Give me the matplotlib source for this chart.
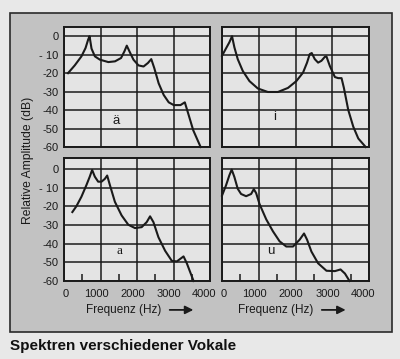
import matplotlib
matplotlib.use('Agg')
from matplotlib import pyplot as plt
from matplotlib.patches import Rectangle
from matplotlib.transforms import ScaledTranslation

plt.rcParams['font.family'] = ['Liberation Sans', 'DejaVu Sans']

# Daten (Frequenz in Hz, Amplitude in dB)
ae_x = [110, 294, 478, 590, 662, 700, 754, 846, 984, 1214, 1398, 1563, 1655, 1720, 1793,
        1903, 2041, 2179, 2299, 2391, 2474, 2593, 2731, 2869, 3007, 3191, 3310, 3402, 3540, 3743]
ae_y = [-20, -15.8, -10.9, -6.4, -1.8, 0, -6.7, -10.9, -12.7, -14, -13.6, -11.8, -8.2, -5.1, -8.2,
        -12.7, -15.8, -16.4, -14.5, -12.4, -17.3, -25.5, -31.8, -35.8, -37.3, -37.3, -35.8, -41.8,
        -50.9, -60]

i_x = [0, 109, 200, 273, 337, 428, 565, 747, 975, 1248, 1522, 1795, 2023, 2205, 2314,
       2387, 2442, 2524, 2615, 2706, 2797, 2843, 2934, 3071, 3162, 3253, 3317, 3435, 3572,
       3709, 3910]
i_y = [-10.6, -6.6, -3.3, 0, -6, -12.4, -18.8, -24.3, -28.3, -30.2, -30.2, -28, -24.3, -19.7,
       -14.3, -9.7, -9.1, -12.4, -14.3, -13.3, -11.2, -11, -16.1, -22.1, -22.7, -22.7, -28,
       -39.9, -49, -55.4, -60]

a_x = [229, 339, 477, 615, 706, 771, 844, 936, 1028, 1119, 1183, 1257, 1394, 1578, 1761,
       1945, 2128, 2266, 2358, 2450, 2587, 2771, 2954, 3092, 3275, 3367, 3550]
a_y = [-23, -19.9, -14.8, -8.5, -4, -0.4, -4, -6.7, -6.7, -5.2, -3.4, -8.5, -17.5, -24.8,
       -29.8, -31.6, -31.1, -28.4, -25.3, -28.4, -36.5, -43.8, -49.2, -49.5, -46.8, -50.6, -60]

u_x = [0, 109, 200, 264, 337, 428, 519, 656, 793, 866, 930, 1021, 1203, 1385, 1567,
       1749, 1932, 2114, 2232, 2314, 2433, 2615, 2843, 3071, 3226, 3345, 3470]
u_y = [-14.2, -8.7, -3.3, -0.2, -4.2, -10.5, -13.3, -14.5, -13.3, -10.7, -12.9, -18.7, -26.9,
       -33.3, -38.7, -41.5, -41.5, -37.8, -34.5, -37.8, -44.2, -50.5, -54.5, -54.7, -53.8, -56, -60]

vokale = ['ä', 'i', 'a', 'u']
label_pos = [(1425, -46), (1440, -44), (1515, -44), (1325, -44)]

y_ticks = [0, -10, -20, -30, -40, -50, -60]
y_labels = ['0', '- 10', '-20', '-30', '-40', '-50', '-60']
x_ticks = [0, 1000, 2000, 3000, 4000]
x_labels = ['0', '1000', '2000', '3000', '4000']

W, H = 400, 359
fig = plt.figure(figsize=(W / 100, H / 100), dpi=100)
fig.patch.set_facecolor('#e8e8e8')

# grauer Kasten (hinter den Achsen)
fig.patches.append(Rectangle((10 / W, 1 - 332 / H), 382 / W, 319 / H, transform=fig.transFigure,
                             facecolor='#c2c2c2', edgecolor='#2a2a2a', lw=1.2, zorder=-10))

boxes = [(64, 27, 146, 120), (222, 27, 147, 120), (64, 158, 146, 123), (222, 158, 147, 123)]
data = [(ae_x, ae_y), (i_x, i_y), (a_x, a_y), (u_x, u_y)]
ink = '#1a1a1a'
shift = [2, -4, -4.5, -4.5, -6]  # Beschriftung im Original leicht versetzt (px)

for n, (l, t, w, h) in enumerate(boxes):
  ax = fig.add_axes([l / W, 1 - (t + h) / H, w / W, h / H])
  ax.set_facecolor('#e4e4e4')
  ax.set_xlim(0, 4000)
  ax.set_ylim(-60, 5 if n < 2 else 6)
  ax.set_xticks(x_ticks)
  ax.set_yticks(y_ticks)
  ax.grid(True, color=ink, lw=1.1)
  ax.set_axisbelow(True)
  for s in ax.spines.values():
    s.set_color(ink)
    s.set_linewidth(1.4)
  ax.tick_params(length=0, labelsize=8, colors=ink)
  ax.tick_params(axis='y', pad=4)
  if n % 2 == 0:
    ax.set_yticklabels(y_labels)
  else:
    ax.set_yticklabels([])
  if n < 2:
    ax.set_xticklabels([])
  else:
    ax.set_xticklabels(x_labels)
    ax.set_xticks([500, 1500, 2500, 3500], minor=True)
    ax.tick_params(which='minor', direction='in', length=5, width=1.1, color=ink)
    ax.tick_params(axis='x', pad=6)
    for lab, dx in zip(ax.get_xticklabels(), shift):
      lab.set_transform(lab.get_transform() + ScaledTranslation(dx / 100, 0, fig.dpi_scale_trans))
    fx = 0.15 if n == 2 else 0.11
    ax.text(fx, -0.235, 'Frequenz (Hz)', transform=ax.transAxes, fontsize=8.5,
            va='center', ha='left', color=ink)
    ax0 = 0.705 if n == 2 else 0.66
    ax.annotate('', xy=(ax0 + 0.2, -0.235), xytext=(ax0, -0.235), xycoords='axes fraction',
                arrowprops=dict(arrowstyle='-|>', color=ink, lw=1.3, mutation_scale=12))
  x, y = data[n]
  ax.plot(x, y, color=ink, lw=1.5, clip_on=False)
  ax.text(label_pos[n][0], label_pos[n][1], vokale[n], fontsize=9.5, ha='center', va='center',
          color=ink, family=['Liberation Serif'] if n == 2 else None)

fig.text(28 / W, 1 - 160 / H, 'Relative Amplitude (dB)', rotation=90, fontsize=8.7,
         ha='center', va='center', color=ink)
fig.text(10 / W, 1 - 346 / H, 'Spektren verschiedener Vokale', fontsize=11, weight='bold',
         ha='left', va='center', color='#111111')

fig.savefig('out.png', dpi=100)
